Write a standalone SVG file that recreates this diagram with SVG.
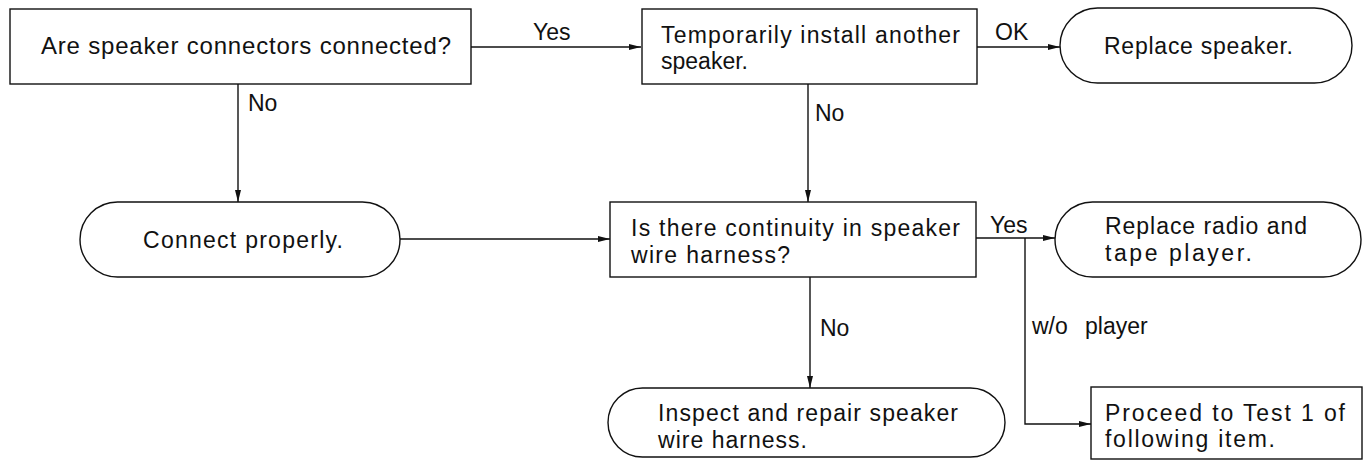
<svg xmlns="http://www.w3.org/2000/svg" width="1365" height="461" viewBox="0 0 1365 461">
<style>
.n{fill:#fff;stroke:#111;stroke-width:1.4}
.c{fill:none;stroke:#111;stroke-width:1.4}
text{font-family:"Liberation Sans",Arial,sans-serif;font-size:23px;fill:#111}
</style>
<defs>
<marker id="ah" viewBox="0 0 12 6" refX="12" refY="3" markerWidth="12" markerHeight="6" markerUnits="userSpaceOnUse" orient="auto">
<path d="M0,0 L12,3 L0,6 Z" fill="#111"/>
</marker>
</defs>
<rect width="1365" height="461" fill="#fff"/>
<g id="connectors">
<path class="c" d="M471,47 H641" marker-end="url(#ah)"/>
<path class="c" d="M977,47 H1060" marker-end="url(#ah)"/>
<path class="c" d="M238,84 V202" marker-end="url(#ah)"/>
<path class="c" d="M808,84 V202" marker-end="url(#ah)"/>
<path class="c" d="M400,239 H610" marker-end="url(#ah)"/>
<path class="c" d="M976,238 H1055" marker-end="url(#ah)"/>
<path class="c" d="M1025,238 V424 H1091" marker-end="url(#ah)"/>
<path class="c" d="M810,277 V388" marker-end="url(#ah)"/>
<text x="533" y="40">Yes</text>
<text x="995" y="40">OK</text>
<text x="248" y="111">No</text>
<text x="815" y="121">No</text>
<text x="990" y="233">Yes</text>
<text x="820" y="336">No</text>
<text x="1032" y="334">w/o</text>
<text x="1085" y="334">player</text>
</g>
<g id="n1">
<rect class="n" x="10" y="9" width="461" height="75"/>
<text x="41" y="54" style="font-size:24px" textLength="410" lengthAdjust="spacing">Are speaker connectors connected?</text>
</g>
<g id="n2">
<rect class="n" x="642" y="9" width="335" height="75"/>
<text x="661" y="43" textLength="299" lengthAdjust="spacing">Temporarily install another</text>
<text x="661" y="69" textLength="87" lengthAdjust="spacing">speaker.</text>
</g>
<g id="n3">
<rect class="n" x="1060" y="8" width="292" height="75" rx="37.5" ry="37.5"/>
<text x="1104" y="54" textLength="189" lengthAdjust="spacing">Replace speaker.</text>
</g>
<g id="n4">
<rect class="n" x="80" y="202" width="320" height="75" rx="37.5" ry="37.5"/>
<text x="143" y="248" textLength="200" lengthAdjust="spacing">Connect properly.</text>
</g>
<g id="n5">
<rect class="n" x="610" y="202" width="366" height="75"/>
<text x="631" y="236" textLength="329" lengthAdjust="spacing">Is there continuity in speaker</text>
<text x="631" y="263" textLength="159" lengthAdjust="spacing">wire harness?</text>
</g>
<g id="n6">
<rect class="n" x="1055" y="202" width="306" height="75" rx="37.5" ry="37.5"/>
<text x="1105" y="234" textLength="202" lengthAdjust="spacing">Replace radio and</text>
<text x="1105" y="261" textLength="147" lengthAdjust="spacing">tape player.</text>
</g>
<g id="n7">
<rect class="n" x="608" y="388" width="397" height="69" rx="34.5" ry="34.5"/>
<text x="658" y="421" textLength="300" lengthAdjust="spacing">Inspect and repair speaker</text>
<text x="658" y="448" textLength="149" lengthAdjust="spacing">wire harness.</text>
</g>
<g id="n8">
<rect class="n" x="1091" y="387" width="271" height="72"/>
<text x="1105" y="421" textLength="240" lengthAdjust="spacing">Proceed to Test 1 of</text>
<text x="1105" y="447" textLength="170" lengthAdjust="spacing">following item.</text>
</g>
</svg>
